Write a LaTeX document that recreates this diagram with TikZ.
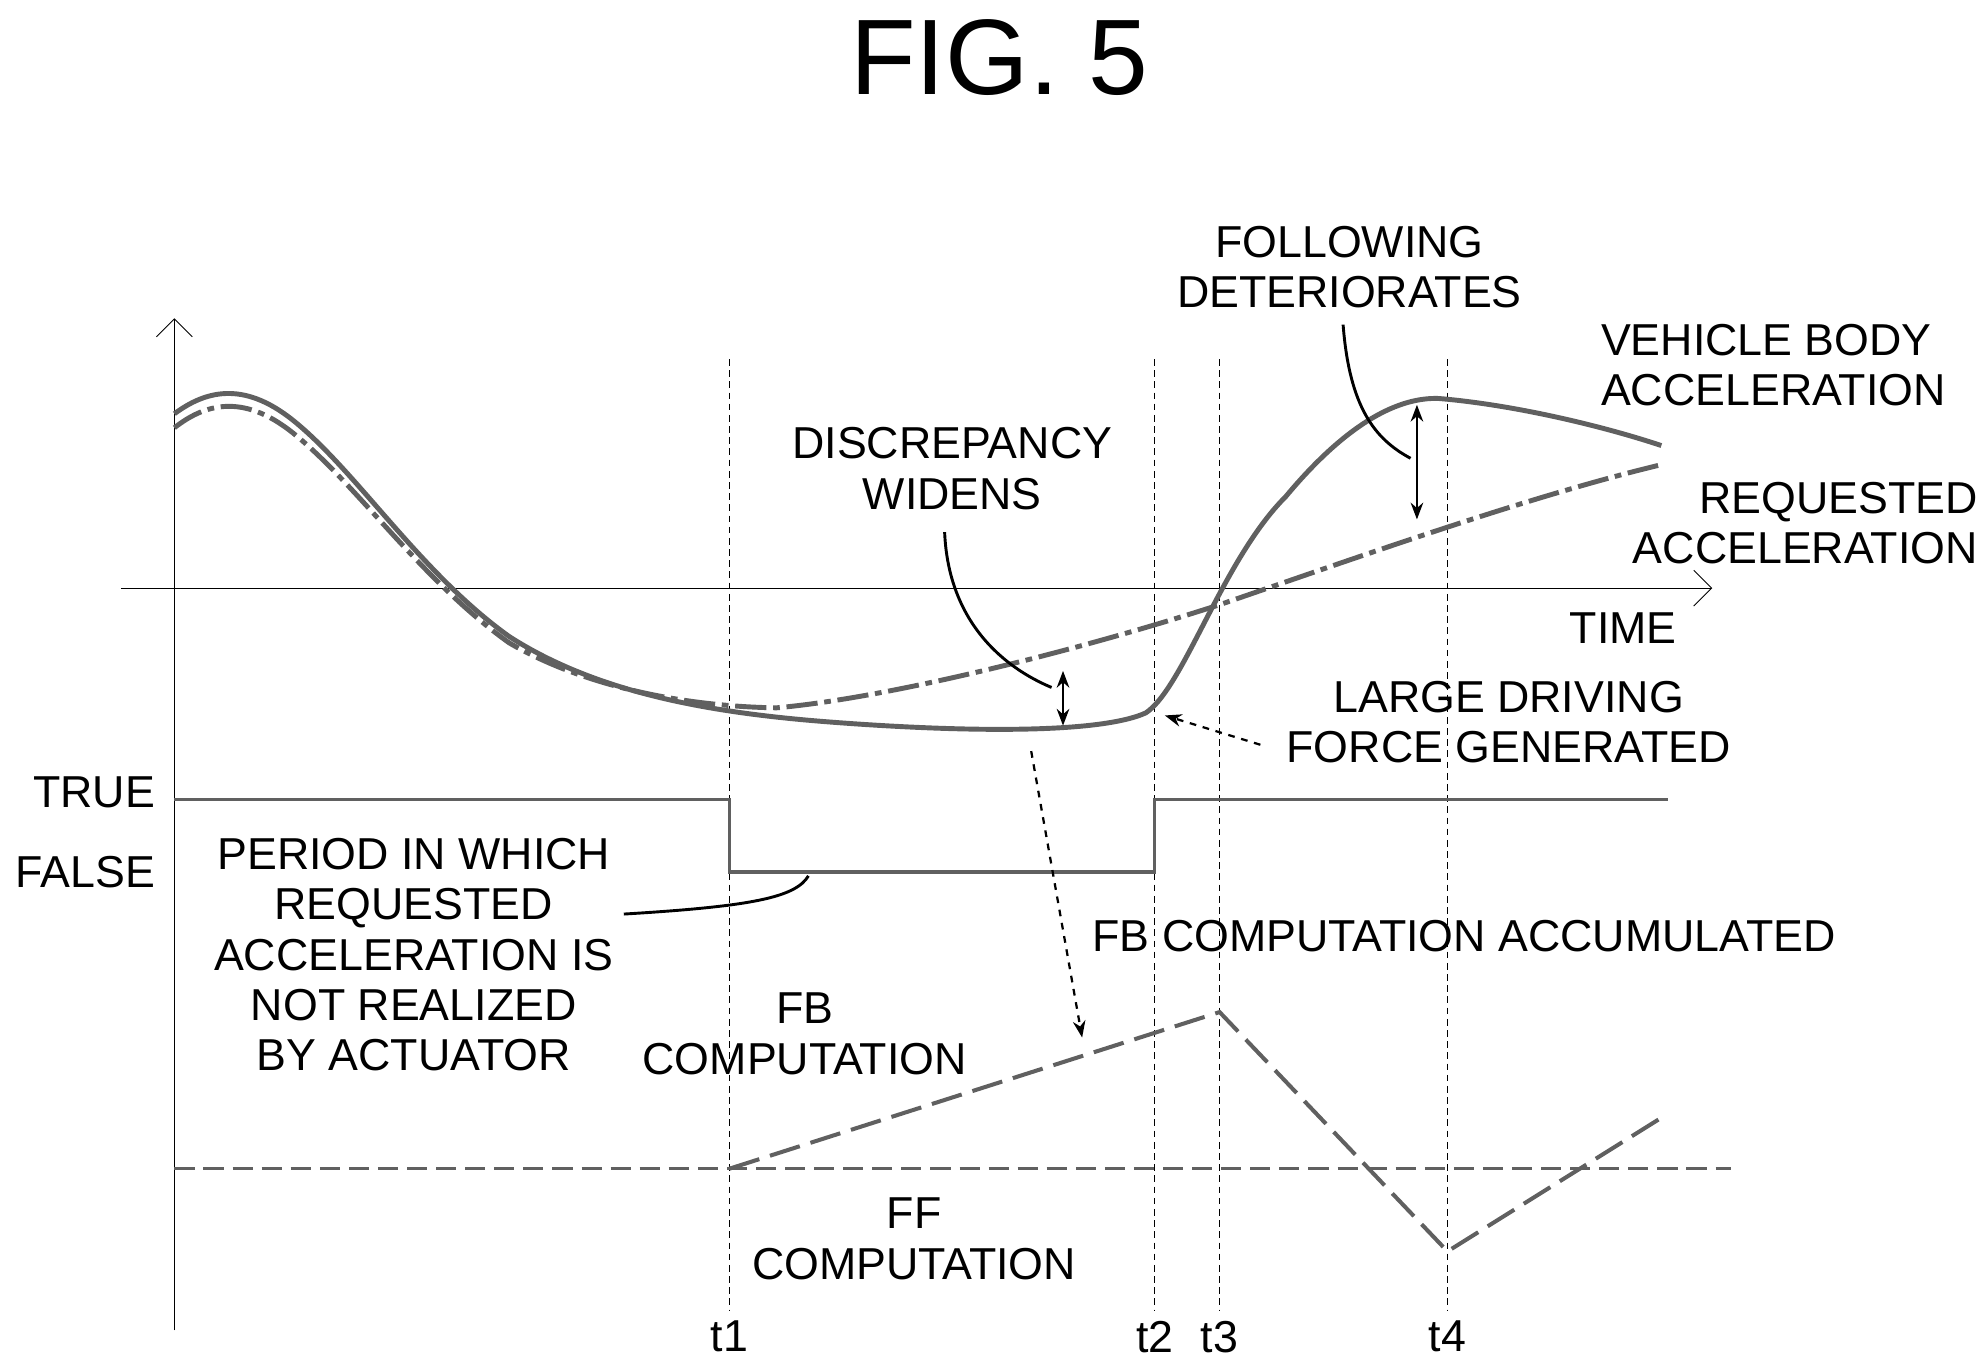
\documentclass[tikz,border=0pt]{standalone}
\usepackage{fontspec}
\setmainfont{Liberation Sans}
\usetikzlibrary{arrows.meta}
\begin{document}
\begin{tikzpicture}[x=0.02cm,y=-0.02cm,
  lbl/.style={font=\fontsize{20}{22.5}\selectfont,align=center,inner sep=0pt},
  curve/.style={line width=2.2pt,gray!75!black},
  guide/.style={densely dashed,line width=0.5pt},
  leader/.style={line width=1.3pt}]
  \useasboundingbox (0,0) rectangle (1560,1074);

  % title and axes
  \node[font=\fontsize{48}{54}\selectfont] (title) at (785,45) {FIG. 5};
  \coordinate (ybot) at (137,1045);
  \coordinate (ytop) at (137,250);
  \coordinate (xl) at (95,462);
  \coordinate (xr) at (1345,462);
  \draw[-{Straight Barb[length=8pt]}] (ybot) -- (ytop);
  \draw[-{Straight Barb[length=8pt]}] (xl) -- (xr);
  \node[lbl] (time) at (1275,493) {TIME};

  % time marks
  \foreach \x/\t in {573/t1, 907/t2, 958/t3, 1137/t4}{
    \draw[guide] (\x,282) -- (\x,1030);
    \node[lbl] (\t) at (\x,1050) {\t};
  }

  % accelerations
  \draw[curve] (137,325) .. controls (160,308) and (190,298) .. (230,330)
    .. controls (280,370) and (330,450) .. (400,500)
    .. controls (470,545) and (560,560) .. (650,567)
    .. controls (740,574) and (860,578) .. (900,560)
    .. controls (930,540) and (960,440) .. (1010,390)
    .. controls (1060,330) and (1100,312) .. (1130,313)
    .. controls (1190,318) and (1260,335) .. (1305,350);
  \draw[curve,dash pattern=on 14pt off 3pt on 3pt off 3pt]
    (137,336) .. controls (160,318) and (190,308) .. (230,340)
    .. controls (280,380) and (330,455) .. (400,505)
    .. controls (460,540) and (540,555) .. (610,556)
    .. controls (700,548) and (850,510) .. (958,475)
    .. controls (1060,440) and (1200,390) .. (1305,365);

  % true / false signal
  \node[lbl,anchor=east] (true) at (122,622) {TRUE};
  \node[lbl,anchor=east] (false) at (122,685) {FALSE};
  \draw[curve,line width=1.6pt] (137,628) -- (573,628) -- (573,685) -- (907,685)
    -- (907,628) -- (1310,628);

  % computations
  \draw[curve,line width=1.6pt,dash pattern=on 9pt off 4pt] (137,918) -- (1360,918);
  \draw[curve,line width=1.8pt,dash pattern=on 14pt off 5pt]
    (573,918) -- (958,795) -- (1137,983) -- (1305,878);

  % discrepancies
  \draw[{Stealth}-{Stealth},line width=1pt] (835,527) -- (835,570);
  \draw[{Stealth}-{Stealth},line width=1pt] (1113,318) -- (1113,408);

  % labels
  \node[lbl] (disc) at (748,368) {DISCREPANCY\\WIDENS};
  \draw[leader] (742,418) .. controls (745,490) and (790,525) .. (826,540);
  \node[lbl] (follow) at (1060,210) {FOLLOWING\\DETERIORATES};
  \draw[leader] (1055,255) .. controls (1060,320) and (1080,345) .. (1108,360);
  \node[lbl,align=left] (vehicle) at (1393,287) {VEHICLE BODY\\ACCELERATION};
  \node[lbl,align=right] (request) at (1418,411) {REQUESTED\\ACCELERATION};
  \node[lbl] (large) at (1185,567) {LARGE DRIVING\\FORCE GENERATED};
  \draw[dashed,-{Stealth},line width=1pt] (990,585) -- (915,562);
  \node[lbl] (period) at (325,750) {PERIOD IN WHICH\\REQUESTED\\ACCELERATION IS\\NOT REALIZED\\BY ACTUATOR};
  \draw[leader] (490,718) .. controls (590,712) and (625,705) .. (635,688);
  \node[lbl] (accum) at (1150,735) {FB COMPUTATION ACCUMULATED};
  \draw[dashed,-{Stealth},line width=1pt] (810,590) -- (850,815);
  \node[lbl] (fb) at (632,812) {FB\\COMPUTATION};
  \node[lbl] (ff) at (718,973) {FF\\COMPUTATION};
\end{tikzpicture}
\end{document}
